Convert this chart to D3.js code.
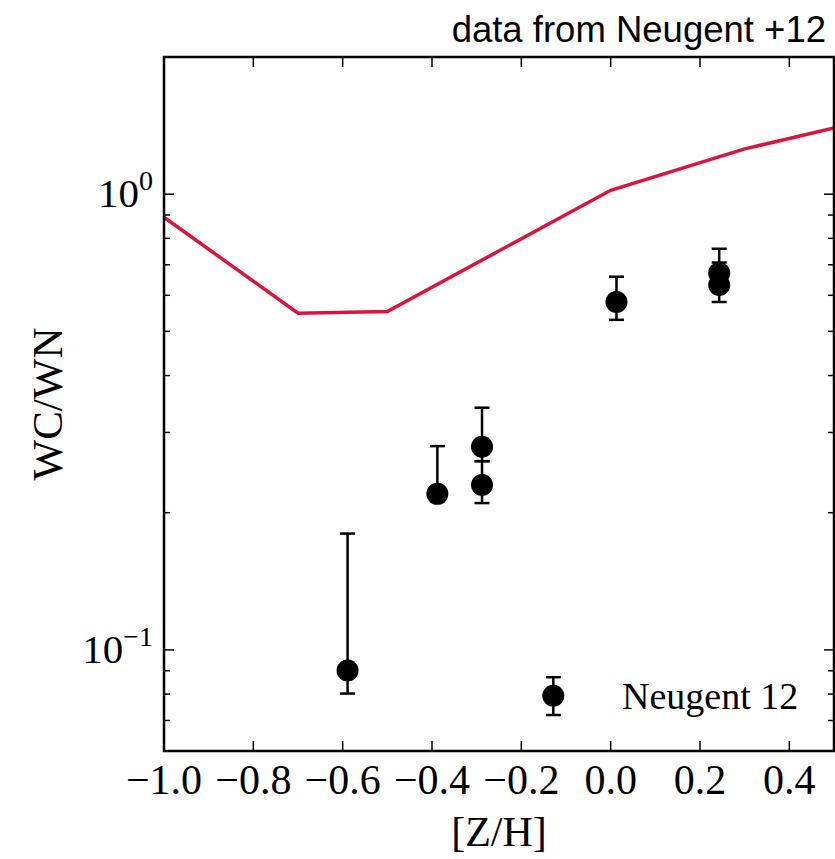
<!DOCTYPE html>
<html>
<head>
<meta charset="utf-8">
<script src="https://cdn.jsdelivr.net/npm/d3@7"></script>
<style>
html,body{margin:0;padding:0;background:#fff;}
svg{display:block;}
</style>
</head>
<body>
<svg id="chart" width="835" height="859"></svg>
<script>
// ---- data ----
const modelZ    = [-1.0, -0.7, -0.5, 0.0, 0.3, 0.5];
const modelRatio= [0.89, 0.548, 0.553, 1.02, 1.257, 1.398];

const obsZ     = [-0.589, -0.388, -0.288, -0.288, 0.013, 0.243, 0.243];
const obsRatio = [0.0901, 0.220, 0.279, 0.230, 0.580, 0.671, 0.632];
const obsLow   = [0.0802, 0.212, 0.2595, 0.210, 0.530, 0.640, 0.580];
const obsHigh  = [0.180, 0.280, 0.340, 0.2595, 0.659, 0.759, 0.708];

const xTicks = [-1.0, -0.8, -0.6, -0.4, -0.2, 0.0, 0.2, 0.4];
const yMajor = [0.1, 1];
const yMajorExp = ["\u22121", "0"];
const yMinor = [0.06, 0.07, 0.08, 0.09, 0.2, 0.3, 0.4, 0.5, 0.6, 0.7, 0.8, 0.9, 2];

const titleText = "data from Neugent +12";
const legendText = "Neugent 12";
const xLabel = "[Z/H]";
const yLabel = "WC/WN";

// ---- layout ----
const L = 164, R = 834, T = 57, B = 751;
const svg = d3.select("#chart");
const x = d3.scaleLinear().domain([-1.0, 0.5]).range([L, R]);
const y = d3.scaleLog().domain([0.06, 2]).range([B, T]);

const serif = "'Liberation Serif', 'DejaVu Serif', serif";
const sans = "'Liberation Sans', 'DejaVu Sans', sans-serif";

svg.append("defs").append("clipPath").attr("id","clip")
  .append("rect").attr("x",L).attr("y",T).attr("width",R-L).attr("height",B-T);

// model line
const line = d3.line().x((d,i)=>x(modelZ[i])).y((d,i)=>y(modelRatio[i]));
svg.append("path").datum(modelZ).attr("d", line)
  .attr("fill","none").attr("stroke","#dc143c").attr("stroke-width",3.5)
  .attr("clip-path","url(#clip)");

// error bars + points
const g = svg.append("g").attr("clip-path","url(#clip)");
const cap = 7.5;
obsZ.forEach((z,i)=>{
  const cx = x(z);
  g.append("line").attr("x1",cx).attr("x2",cx).attr("y1",y(obsLow[i])).attr("y2",y(obsHigh[i]))
    .attr("stroke","#000").attr("stroke-width",2.5);
  [obsLow[i], obsHigh[i]].forEach(v=>{
    g.append("line").attr("x1",cx-cap).attr("x2",cx+cap).attr("y1",y(v)).attr("y2",y(v))
      .attr("stroke","#000").attr("stroke-width",2.5);
  });
});
obsZ.forEach((z,i)=>{
  g.append("circle").attr("cx",x(z)).attr("cy",y(obsRatio[i])).attr("r",11).attr("fill","#000");
});

// ticks (inward) on all sides
const tk = svg.append("g").attr("stroke","#000").attr("stroke-width",1.5);
xTicks.forEach(v=>{
  tk.append("line").attr("x1",x(v)).attr("x2",x(v)).attr("y1",B).attr("y2",B-10);
  tk.append("line").attr("x1",x(v)).attr("x2",x(v)).attr("y1",T).attr("y2",T+10);
});
yMajor.forEach(v=>{
  tk.append("line").attr("x1",L).attr("x2",L+10).attr("y1",y(v)).attr("y2",y(v));
  tk.append("line").attr("x1",R).attr("x2",R-10).attr("y1",y(v)).attr("y2",y(v));
});
yMinor.forEach(v=>{
  tk.append("line").attr("x1",L).attr("x2",L+6).attr("y1",y(v)).attr("y2",y(v));
  tk.append("line").attr("x1",R).attr("x2",R-6).attr("y1",y(v)).attr("y2",y(v));
});

// frame
svg.append("rect").attr("x",L).attr("y",T).attr("width",R-L).attr("height",B-T)
  .attr("fill","none").attr("stroke","#000").attr("stroke-width",2.5);

// x tick labels
xTicks.forEach(v=>{
  svg.append("text").attr("x",x(v)).attr("y",794).attr("text-anchor","middle")
    .attr("font-family",serif).attr("font-size",42).attr("fill","#000")
    .text((v<0?"\u2212":"") + Math.abs(v).toFixed(1));
});

// y tick labels
yMajor.forEach((v,i)=>{
  const t = svg.append("text").attr("x",153).attr("y",y(v)+13).attr("text-anchor","end")
    .attr("font-family",serif).attr("font-size",41).attr("fill","#000");
  t.append("tspan").text("10");
  t.append("tspan").attr("font-size",28).attr("dy",-17).text(yMajorExp[i]);
});

// axis labels
svg.append("text").attr("x",(L+R)/2).attr("y",846).attr("text-anchor","middle")
  .attr("font-family",serif).attr("font-size",42).attr("fill","#000").text(xLabel);
svg.append("text").attr("transform",`translate(62,${(T+B)/2}) rotate(-90)`).attr("text-anchor","middle")
  .attr("font-family",serif).attr("font-size",43).attr("fill","#000").text(yLabel);

// title
svg.append("text").attr("x",826).attr("y",42).attr("text-anchor","end")
  .attr("font-family",sans).attr("font-size",36.5).attr("fill","#000").text(titleText);

// legend
const lx = 553.3, ly = 695.7;
const lg = svg.append("g");
lg.append("line").attr("x1",lx).attr("x2",lx).attr("y1",ly-18.5).attr("y2",ly+19.3).attr("stroke","#000").attr("stroke-width",2.5);
lg.append("line").attr("x1",lx-cap).attr("x2",lx+cap).attr("y1",ly-18.5).attr("y2",ly-18.5).attr("stroke","#000").attr("stroke-width",2.5);
lg.append("line").attr("x1",lx-cap).attr("x2",lx+cap).attr("y1",ly+19.3).attr("y2",ly+19.3).attr("stroke","#000").attr("stroke-width",2.5);
lg.append("circle").attr("cx",lx).attr("cy",ly).attr("r",11).attr("fill","#000");
lg.append("text").attr("x",622).attr("y",709).attr("font-family",serif).attr("font-size",38).attr("fill","#000").text(legendText);
</script>
</body>
</html>
